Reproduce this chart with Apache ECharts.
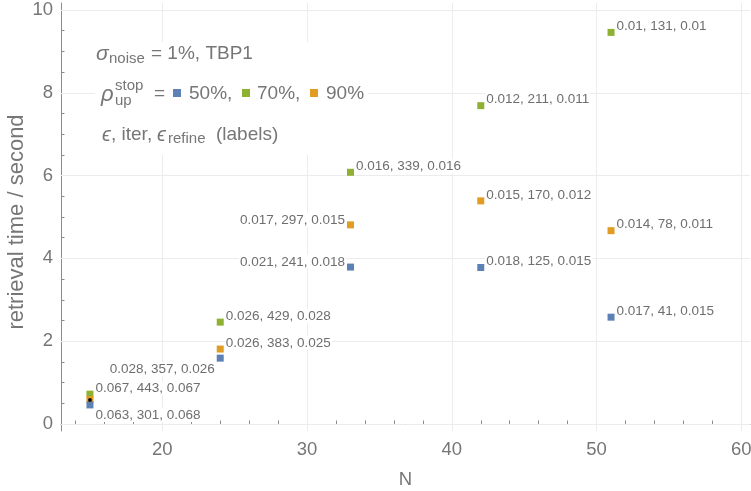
<!DOCTYPE html>
<html>
<head>
<meta charset="utf-8">
<script src="https://cdn.jsdelivr.net/npm/echarts@6/dist/echarts.min.js"></script>
<style>html,body{margin:0;padding:0;background:#fff}#c{width:751px;height:491px}</style>
</head>
<body>
<div id="c"></div>
<script>
// ---- data ----
const N_VALUES = [15, 24, 33, 42, 51];
const time50 = [0.46, 1.59, 3.79, 3.78, 2.58];
const time70 = [0.72, 2.46, 6.08, 7.69, 9.46];
const time90 = [0.59, 1.81, 4.81, 5.39, 4.67];
const labels50 = ["0.063, 301, 0.068", "0.028, 357, 0.026", "0.021, 241, 0.018", "0.018, 125, 0.015", "0.017, 41, 0.015"];
const labels70 = ["0.067, 443, 0.067", "0.026, 429, 0.028", "0.016, 339, 0.016", "0.012, 211, 0.011", "0.01, 131, 0.01"];
const labels90 = ["", "0.026, 383, 0.025", "0.017, 297, 0.015", "0.015, 170, 0.012", "0.014, 78, 0.011"];
const refN = [15];
const refTime = [0.58];
const xMajorTicks = [20, 30, 40, 50, 60];
const yMajorTicks = [0, 2, 4, 6, 8, 10];

// ---- styles ----
const C50 = '#5E81B5', C70 = '#8FB131', C90 = '#E19C24';
const TXT = '#767676';
const FONT = "'Liberation Sans', Arial, sans-serif";
const labelPlace = {
  '50-0': { position: 'right', offset: [0, 10] },
  '50-1': { position: 'left', offset: [0, 11] },
  '50-2': { position: 'left', offset: [0, -5] },
  '90-2': { position: 'left', offset: [0, -5] }
};
const X_MIN = 13, X_MAX = 60.6, Y_MIN = -0.17, Y_MAX = 10.17;

function range(a, b, s) { const r = []; for (let v = a; v <= b + 1e-9; v += s) r.push(+v.toFixed(4)); return r; }
const xMinorTicks = range(14, 60, 2).filter(v => xMajorTicks.indexOf(v) < 0);
const yMinorTicks = range(0, 10, 0.5).filter(v => yMajorTicks.indexOf(v) < 0);

function mkSeries(key, times, labels, color) {
  return {
    type: 'scatter', name: key, xAxisIndex: 0, yAxisIndex: 0, z: 3,
    symbol: 'rect', symbolSize: 7,
    itemStyle: { color: color, opacity: 1 },
    data: N_VALUES.map((n, i) => {
      const p = labelPlace[key + '-' + i] || { position: 'right', offset: [0, -6] };
      return {
        value: [n, times[i]],
        label: {
          show: labels[i] !== '', formatter: labels[i], position: p.position,
          distance: 1, offset: p.offset, color: '#6e6e6e', fontSize: 13.5, fontFamily: FONT,
          backgroundColor: '#fff', padding: [0, 1]
        }
      };
    })
  };
}

const tickLine = { color: '#8c8c8c' };
const chart = echarts.init(document.getElementById('c'), null, { renderer: 'canvas' });
const option = {
  animation: false,
  grid: { left: 61, right: 1, top: 3, bottom: 60, containLabel: false, outerBoundsMode: 'none' },
  xAxis: [
    {
      type: 'value', min: X_MIN, max: X_MAX, position: 'bottom', splitLine: { show: false },
      name: 'N', nameLocation: 'middle', nameGap: 39, nameMoveOverlap: false,
      nameTextStyle: { color: TXT, fontSize: 18.5, fontFamily: FONT },
      axisLine: { show: true, lineStyle: { color: '#8c8c8c', width: 1 } },
      axisTick: { show: true, inside: true, length: 6, customValues: xMajorTicks, lineStyle: tickLine },
      axisLabel: { show: true, customValues: xMajorTicks, color: TXT, fontSize: 18.5, fontFamily: FONT, margin: 9 }
    },
    {
      type: 'value', min: X_MIN, max: X_MAX, position: 'bottom', splitLine: { show: false },
      axisLine: { show: false },
      axisTick: { show: true, inside: true, length: 3.5, customValues: xMinorTicks, lineStyle: tickLine },
      axisLabel: { show: false }
    }
  ],
  yAxis: [
    {
      type: 'value', min: Y_MIN, max: Y_MAX, position: 'left', splitLine: { show: false },
      name: 'retrieval time / second', nameLocation: 'middle', nameGap: 33, nameMoveOverlap: false,
      nameTextStyle: { color: TXT, fontSize: 22, fontFamily: FONT, padding: [0, 10, 0, 0] },
      axisLine: { show: true, lineStyle: { color: '#8c8c8c', width: 1 } },
      axisTick: { show: true, inside: true, length: 6, customValues: yMajorTicks, lineStyle: tickLine },
      axisLabel: { show: true, customValues: yMajorTicks, color: TXT, fontSize: 18.5, fontFamily: FONT, margin: 8 }
    },
    {
      type: 'value', min: Y_MIN, max: Y_MAX, position: 'left', splitLine: { show: false },
      axisLine: { show: false },
      axisTick: { show: true, inside: true, length: 3.5, customValues: yMinorTicks, lineStyle: tickLine },
      axisLabel: { show: false }
    }
  ],
  series: [
    {
      type: 'scatter', data: [], z: 1, silent: true,
      markLine: {
        silent: true, symbol: ['none', 'none'], animation: false, z: 1,
        label: { show: false },
        lineStyle: { color: '#ececec', width: 1, type: 'solid' },
        data: xMajorTicks.map(v => ({ xAxis: v })).concat(yMajorTicks.map(v => ({ yAxis: v })))
      }
    },
    mkSeries('70', time70, labels70, C70),
    mkSeries('90', time90, labels90, C90),
    mkSeries('50', time50, labels50, C50),
    {
      type: 'scatter', symbol: 'circle', symbolSize: 4, z: 4,
      itemStyle: { color: '#111', opacity: 1 },
      data: refN.map((n, i) => [n, refTime[i]])
    }
  ],
  graphic: [{
    type: 'group', z: 10,
    children: [
      { type: 'rect', z: 10, shape: { x: 95, y: 42, width: 273, height: 113 }, style: { fill: '#fff' } },
      { type: 'text', z: 11, x: 96, y: 54, style: { text: 'σ', font: 'italic 21px ' + FONT, fill: TXT, verticalAlign: 'middle', textVerticalAlign: 'middle' } },
      { type: 'text', z: 11, x: 109, y: 59, style: { text: 'noise', font: '15px ' + FONT, fill: TXT, verticalAlign: 'middle', textVerticalAlign: 'middle' } },
      { type: 'text', z: 11, x: 151, y: 54, style: { text: '= 1%, TBP1', font: '19px ' + FONT, fill: TXT, verticalAlign: 'middle', textVerticalAlign: 'middle' } },

      { type: 'text', z: 11, x: 101, y: 95, style: { text: 'ρ', font: 'italic 22px ' + FONT, fill: TXT, verticalAlign: 'middle', textVerticalAlign: 'middle' } },
      { type: 'text', z: 11, x: 115, y: 86, style: { text: 'stop', font: '15px ' + FONT, fill: TXT, verticalAlign: 'middle', textVerticalAlign: 'middle' } },
      { type: 'text', z: 11, x: 115, y: 101, style: { text: 'up', font: '15px ' + FONT, fill: TXT, verticalAlign: 'middle', textVerticalAlign: 'middle' } },
      { type: 'text', z: 11, x: 154, y: 94, style: { text: '=', font: '19px ' + FONT, fill: TXT, verticalAlign: 'middle', textVerticalAlign: 'middle' } },
      { type: 'rect', z: 11, shape: { x: 173, y: 89, width: 8, height: 8 }, style: { fill: C50 } },
      { type: 'text', z: 11, x: 189, y: 94, style: { text: '50%,', font: '19px ' + FONT, fill: TXT, verticalAlign: 'middle', textVerticalAlign: 'middle' } },
      { type: 'rect', z: 11, shape: { x: 242, y: 89, width: 8, height: 8 }, style: { fill: C70 } },
      { type: 'text', z: 11, x: 257, y: 94, style: { text: '70%,', font: '19px ' + FONT, fill: TXT, verticalAlign: 'middle', textVerticalAlign: 'middle' } },
      { type: 'rect', z: 11, shape: { x: 310, y: 89, width: 8, height: 8 }, style: { fill: C90 } },
      { type: 'text', z: 11, x: 326, y: 94, style: { text: '90%', font: '19px ' + FONT, fill: TXT, verticalAlign: 'middle', textVerticalAlign: 'middle' } },

      { type: 'text', z: 11, x: 102, y: 135, style: { text: 'ϵ', font: 'italic 20px ' + FONT, fill: TXT, verticalAlign: 'middle', textVerticalAlign: 'middle' } },
      { type: 'text', z: 11, x: 111, y: 135, style: { text: ', iter,', font: '19px ' + FONT, fill: TXT, verticalAlign: 'middle', textVerticalAlign: 'middle' } },
      { type: 'text', z: 11, x: 157, y: 135, style: { text: 'ϵ', font: 'italic 20px ' + FONT, fill: TXT, verticalAlign: 'middle', textVerticalAlign: 'middle' } },
      { type: 'text', z: 11, x: 168, y: 139, style: { text: 'refine', font: '15px ' + FONT, fill: TXT, verticalAlign: 'middle', textVerticalAlign: 'middle' } },
      { type: 'text', z: 11, x: 216, y: 135, style: { text: '(labels)', font: '19px ' + FONT, fill: TXT, verticalAlign: 'middle', textVerticalAlign: 'middle' } }
    ]
  }]
};
chart.setOption(option);
</script>
</body>
</html>
